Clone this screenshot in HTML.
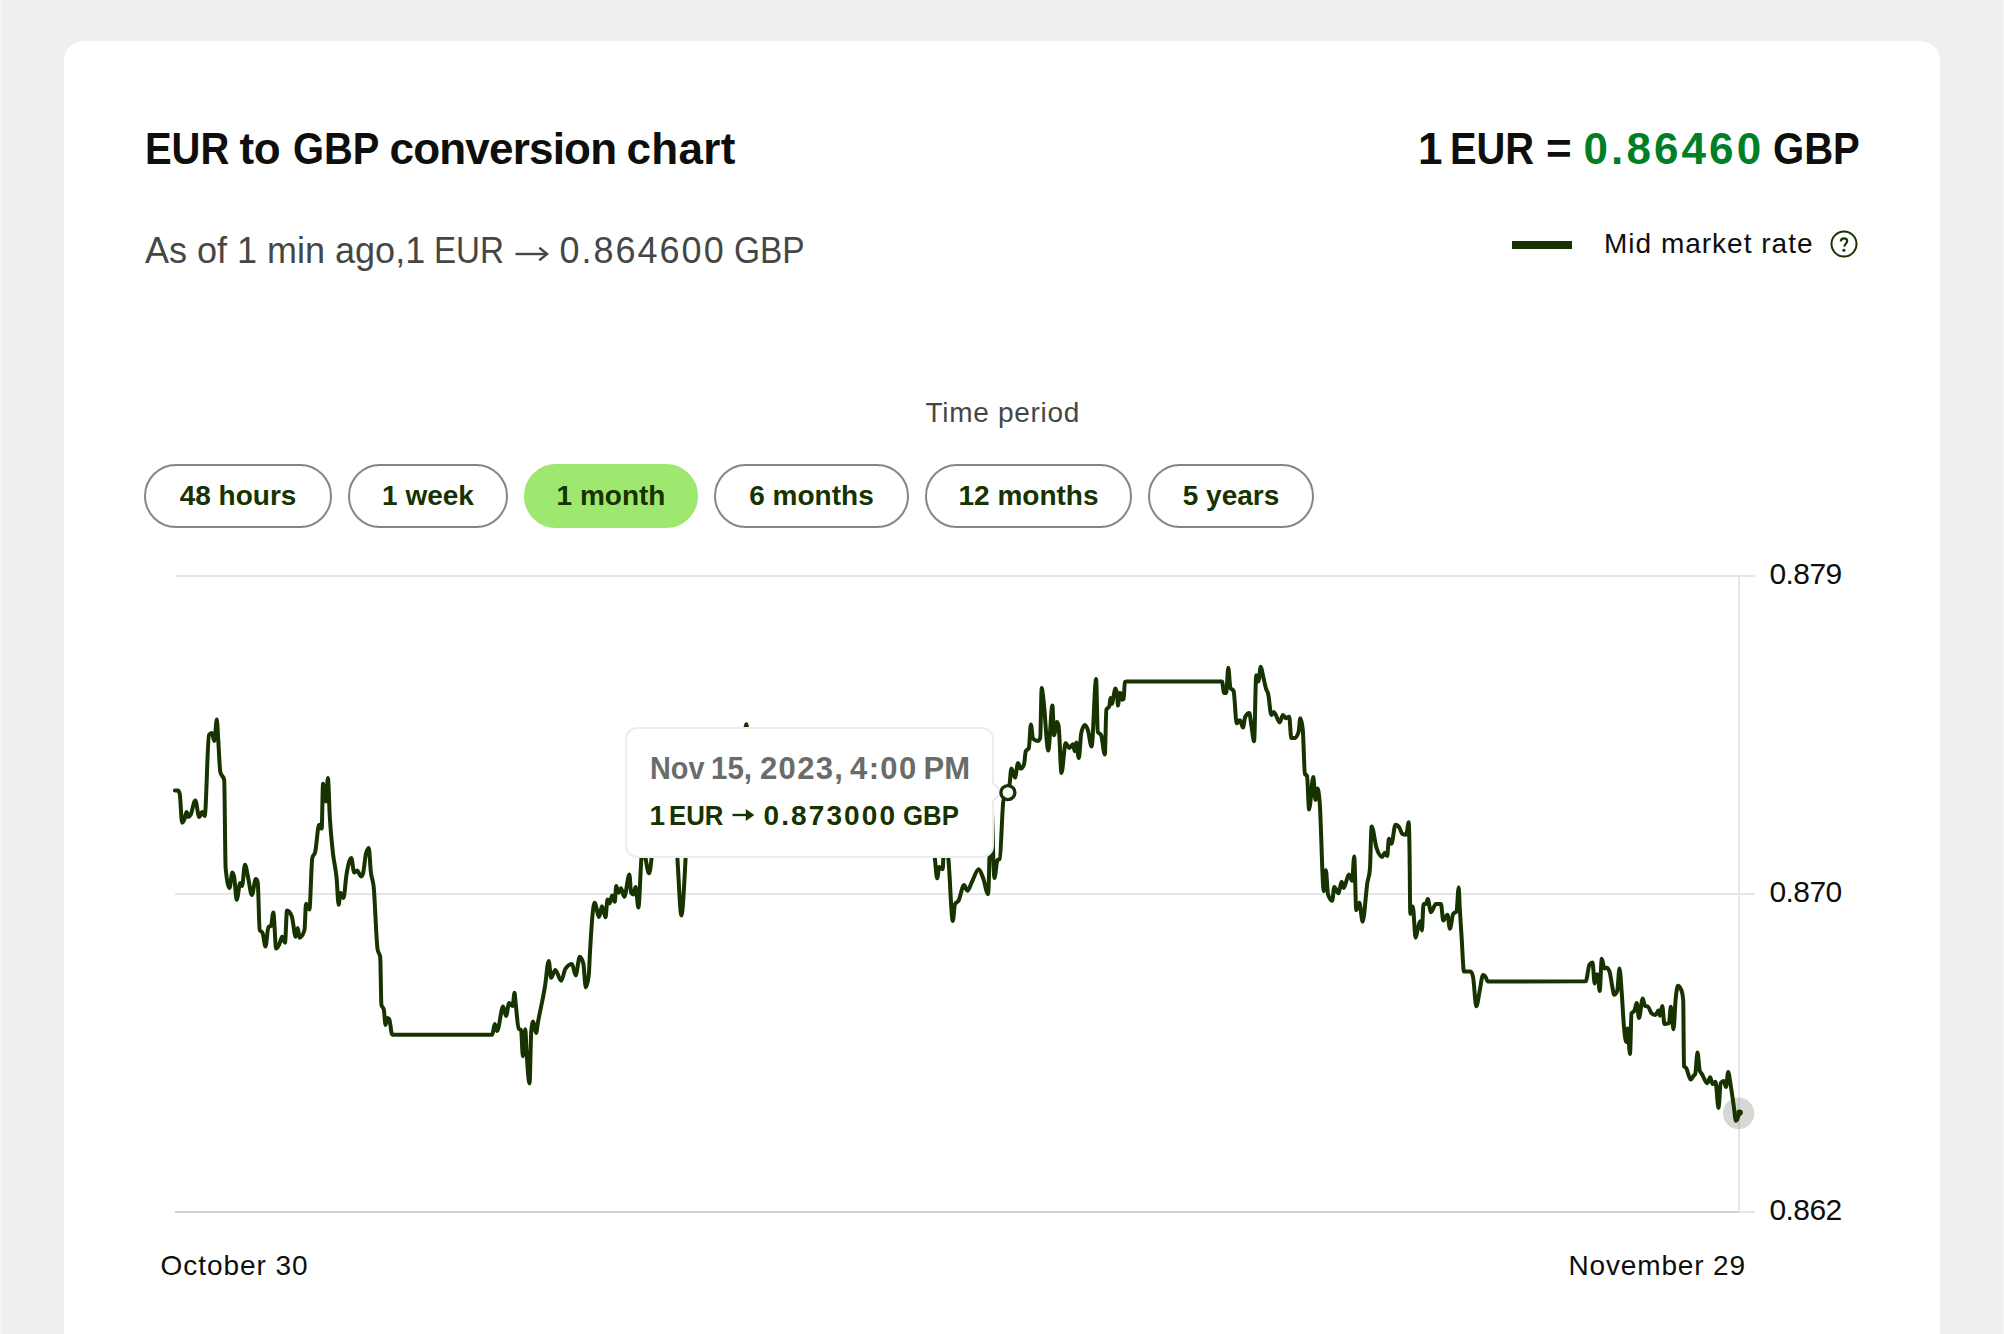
<!DOCTYPE html>
<html><head><meta charset="utf-8">
<style>
*{margin:0;padding:0;box-sizing:border-box}
html,body{width:2004px;height:1334px;overflow:hidden;background:#efefed;font-family:"Liberation Sans",sans-serif}
.card{position:absolute;left:64px;top:41px;width:1876px;height:1400px;background:#fff;border-radius:20px}
.t{position:absolute;white-space:nowrap;line-height:1}
.ttl{top:126.5px;font-size:44px;font-weight:700;color:#0e0f0c}
.rate{top:126.5px;font-size:44px;font-weight:700;color:#0e0f0c}
.sub{top:233px;font-size:36px;color:#454745}
.arr{display:inline-block;vertical-align:top}
#legbar{position:absolute;left:1512px;top:241px;width:60px;height:8px;background:#163300}
#leg{left:1604px;top:230px;font-size:28px;color:#0e0f0c;letter-spacing:1px}
#tp{left:925.5px;top:398.5px;font-size:28px;color:#454745;letter-spacing:0.7px}
.pill{position:absolute;top:464px;height:64px;border:2px solid #868685;border-radius:32px;font-size:28px;font-weight:700;color:#163300;text-align:center;line-height:60px;white-space:nowrap}
.pill.on{background:#9fe870;border-color:#9fe870}
.ax{position:absolute;font-size:28px;color:#0e0f0c;white-space:nowrap;line-height:1}
.xl{letter-spacing:0.95px}
.yl{font-size:30px;letter-spacing:-0.6px}
#tip{position:absolute;left:624.5px;top:727px;width:369px;height:131px;background:#fff;border:2px solid #ededed;border-radius:12px}
.tip1{top:752.5px;font-size:31px;font-weight:700;color:#6a6c6a}
.tip2{top:802px;font-size:28px;font-weight:700;color:#163300}
</style></head><body>
<div class="card"></div>
<div style="position:absolute;left:0;top:0;width:2px;height:1334px;background:#f4f4f3"></div><div style="position:absolute;right:0;top:0;width:2px;height:1334px;background:#f4f4f3"></div>
<div class="t ttl" style="left:144.5px;transform:scaleX(0.907);transform-origin:0 0">EUR</div><div class="t ttl" style="left:239.5px;letter-spacing:-0.5px">to</div><div class="t ttl" style="left:292.5px;transform:scaleX(0.905);transform-origin:0 0">GBP</div><div class="t ttl" style="left:389.5px;letter-spacing:-0.8px">conversion</div><div class="t ttl" style="left:626.5px;letter-spacing:0.35px">chart</div>
<div class="t rate" id="r1a" style="left:1418px">1</div><div class="t rate" id="r1b" style="left:1450px;transform:scaleX(0.905);transform-origin:0 0">EUR</div><div class="t rate" id="r1c" style="left:1546px">=</div><div class="t rate" id="r2" style="left:1583.5px;color:#008026;letter-spacing:3.1px">0.86460</div><div class="t rate" id="r3" style="left:1773px;transform:scaleX(0.91);transform-origin:0 0">GBP</div>
<div class="t sub" id="s1" style="left:145px">As of 1 min ago,1</div><div class="t sub" id="s2" style="left:434px;transform:scaleX(0.92);transform-origin:0 0">EUR</div><svg style="position:absolute;left:515px;top:233px" width="34" height="36" viewBox="0 0 34 36"><path d="M0.5 21 H32" stroke="#454745" stroke-width="2.4"/><path d="M24.3 14.8 L32.2 21 L24.3 27.2" fill="none" stroke="#454745" stroke-width="2.4"/></svg><div class="t sub" id="s3" style="left:559.5px;letter-spacing:2px">0.864600</div><div class="t sub" id="s4" style="left:733.5px;transform:scaleX(0.93);transform-origin:0 0">GBP</div>
<div id="legbar"></div>
<div class="t" id="leg">Mid market rate</div>
<svg style="position:absolute;left:1830px;top:230px" width="28" height="28" viewBox="0 0 28 28">
<circle cx="14" cy="14" r="12.5" fill="none" stroke="#163300" stroke-width="2"/>
<path d="M10.8 11.4 C11 9.4 12.4 8.4 14.1 8.4 C16 8.4 17.2 9.6 17.2 11.1 C17.2 13.3 14.8 13.8 14.3 16.6" fill="none" stroke="#163300" stroke-width="2.2" stroke-linecap="butt"/>
<circle cx="13.9" cy="20.2" r="1.55" fill="#163300"/>
</svg>
<div class="t" id="tp">Time period</div>
<div class="pill" id="p1" style="left:144px;width:188px">48 hours</div>
<div class="pill" id="p2" style="left:348px;width:160px">1 week</div>
<div class="pill on" id="p3" style="left:524px;width:174px">1 month</div>
<div class="pill" id="p4" style="left:714px;width:195px">6 months</div>
<div class="pill" id="p5" style="left:925px;width:207px">12 months</div>
<div class="pill" id="p6" style="left:1148px;width:166px">5 years</div>
<svg style="position:absolute;left:0;top:0" width="2004" height="1334">
<line x1="175" y1="576" x2="1755" y2="576" stroke="#e6e6e6" stroke-width="2"/>
<line x1="175" y1="894" x2="1755" y2="894" stroke="#e6e6e6" stroke-width="2"/>
<line x1="1739" y1="576" x2="1739" y2="1212" stroke="#e6e6e6" stroke-width="2"/>
<line x1="175" y1="1212" x2="1739" y2="1212" stroke="#cfcfcf" stroke-width="2"/>
<line x1="1739" y1="1212" x2="1755" y2="1212" stroke="#e6e6e6" stroke-width="2"/>
<circle cx="1738.6" cy="1113.3" r="15.7" fill="rgba(120,128,110,0.3)"/>
<path d="M174.90 790.60 C175.87 790.60 176.83 790.60 177.80 790.60 C178.43 790.60 179.07 791.60 179.70 793.60 C180.50 796.13 181.30 822.80 182.10 822.80 C182.93 822.80 183.77 821.07 184.60 818.90 C185.27 817.16 185.93 812.00 186.60 812.00 C187.23 812.00 187.87 817.00 188.50 817.00 C189.17 817.00 189.83 816.07 190.50 815.00 C192.10 812.44 193.70 800.40 195.30 800.40 C196.60 800.40 197.90 817.00 199.20 817.00 C200.20 817.00 201.20 812.00 202.20 812.00 C203.03 812.00 203.87 816.00 204.70 816.00 C206.13 816.00 207.57 736.98 209.00 735.00 C209.97 733.67 210.93 733.00 211.90 733.00 C212.73 733.00 213.57 741.00 214.40 741.00 C215.20 741.00 216.00 719.50 216.80 719.50 C217.30 719.50 217.80 733.58 218.30 741.00 C218.97 750.89 219.63 769.26 220.30 772.00 C221.60 777.33 222.90 774.67 224.20 780.00 C224.67 781.91 225.13 862.72 225.60 867.60 C226.90 881.20 228.20 888.00 229.50 888.00 C230.47 888.00 231.43 872.50 232.40 872.50 C233.03 872.50 233.67 874.43 234.30 878.00 C235.10 882.50 235.90 899.80 236.70 899.80 C237.87 899.80 239.03 883.00 240.20 883.00 C240.80 883.00 241.40 886.00 242.00 886.00 C243.00 886.00 244.00 864.70 245.00 864.70 C246.00 864.70 247.00 872.68 248.00 877.00 C249.30 882.62 250.60 895.00 251.90 895.00 C253.20 895.00 254.50 879.00 255.80 879.00 C256.43 879.00 257.07 880.00 257.70 882.00 C258.37 884.11 259.03 928.62 259.70 930.00 C260.67 932.00 261.63 931.00 262.60 933.00 C263.57 935.00 264.53 946.60 265.50 946.60 C266.47 946.60 267.43 927.74 268.40 927.00 C269.27 926.33 270.13 926.67 271.00 926.00 C271.77 925.41 272.53 912.50 273.30 912.50 C274.27 912.50 275.23 948.50 276.20 948.50 C277.20 948.50 278.20 946.61 279.20 944.60 C280.17 942.66 281.13 936.80 282.10 936.80 C283.07 936.80 284.03 942.70 285.00 942.70 C285.67 942.70 286.33 910.50 287.00 910.50 C288.60 910.50 290.20 912.47 291.80 916.40 C293.10 919.60 294.40 936.80 295.70 936.80 C296.37 936.80 297.03 928.00 297.70 928.00 C298.33 928.00 298.97 937.80 299.60 937.80 C301.23 937.80 302.87 935.20 304.50 930.00 C305.00 928.41 305.50 903.70 306.00 903.70 C307.13 903.70 308.27 909.50 309.40 909.50 C310.37 909.50 311.33 861.83 312.30 857.90 C313.27 853.97 314.23 855.93 315.20 852.00 C316.50 846.71 317.80 824.80 319.10 824.80 C319.97 824.80 320.83 828.70 321.70 828.70 C322.13 828.70 322.57 783.80 323.00 783.80 C324.00 783.80 325.00 801.40 326.00 801.40 C326.63 801.40 327.27 778.00 327.90 778.00 C328.53 778.00 329.17 806.18 329.80 817.00 C330.80 834.09 331.80 842.36 332.80 852.00 C334.10 864.53 335.40 864.63 336.70 879.30 C337.33 886.45 337.97 904.70 338.60 904.70 C339.27 904.70 339.93 893.00 340.60 893.00 C341.57 893.00 342.53 897.90 343.50 897.90 C344.47 897.90 345.43 881.40 346.40 875.40 C348.03 865.27 349.67 857.90 351.30 857.90 C352.27 857.90 353.23 872.50 354.20 872.50 C355.17 872.50 356.13 870.60 357.10 870.60 C358.40 870.60 359.70 876.40 361.00 876.40 C361.67 876.40 362.33 875.43 363.00 873.50 C363.97 870.70 364.93 858.00 365.90 854.00 C366.87 850.00 367.83 848.00 368.80 848.00 C369.47 848.00 370.13 865.41 370.80 871.50 C371.77 880.33 372.73 877.43 373.70 887.00 C375.00 899.87 376.30 942.20 377.60 949.50 C378.47 954.37 379.33 951.93 380.20 956.80 C380.60 959.05 381.00 1003.10 381.40 1004.70 C382.20 1007.90 383.00 1006.30 383.80 1009.50 C384.40 1011.90 385.00 1025.00 385.60 1025.00 C386.20 1025.00 386.80 1018.00 387.40 1018.00 C388.00 1018.00 388.60 1018.33 389.20 1019.00 C390.20 1020.11 391.20 1034.70 392.20 1034.70 C425.57 1034.70 458.93 1034.70 492.30 1034.70 C493.10 1034.70 493.90 1024.00 494.70 1024.00 C495.50 1024.00 496.30 1031.00 497.10 1031.00 C499.10 1031.00 501.10 1006.50 503.10 1006.50 C504.10 1006.50 505.10 1016.00 506.10 1016.00 C507.10 1016.00 508.10 1003.00 509.10 1003.00 C510.30 1003.00 511.50 1006.00 512.70 1006.00 C513.30 1006.00 513.90 992.80 514.50 992.80 C514.90 992.80 515.30 999.99 515.70 1003.50 C516.70 1012.27 517.70 1027.62 518.70 1028.70 C519.50 1029.57 520.30 1029.13 521.10 1030.00 C521.70 1030.65 522.30 1056.30 522.90 1056.30 C523.70 1056.30 524.50 1029.30 525.30 1029.30 C525.70 1029.30 526.10 1044.04 526.50 1050.30 C527.50 1065.94 528.50 1083.30 529.50 1083.30 C530.10 1083.30 530.70 1037.33 531.30 1031.00 C531.90 1024.67 532.50 1021.50 533.10 1021.50 C534.10 1021.50 535.10 1033.00 536.10 1033.00 C536.70 1033.00 537.30 1026.07 537.90 1022.70 C540.30 1009.24 542.70 1000.66 545.10 985.60 C546.30 978.07 547.50 961.00 548.70 961.00 C549.50 961.00 550.30 977.80 551.10 977.80 C552.50 977.80 553.90 970.00 555.30 970.00 C557.27 970.00 559.23 980.80 561.20 980.80 C562.60 980.80 564.00 970.84 565.40 968.80 C567.60 965.60 569.80 964.00 572.00 964.00 C573.20 964.00 574.40 975.40 575.60 975.40 C577.00 975.40 578.40 956.80 579.80 956.80 C581.00 956.80 582.20 959.20 583.40 964.00 C584.20 967.20 585.00 987.40 585.80 987.40 C586.80 987.40 587.80 983.20 588.80 974.80 C589.20 971.44 589.60 958.91 590.00 952.00 C591.53 925.49 593.07 902.70 594.60 902.70 C596.10 902.70 597.60 916.90 599.10 916.90 C600.03 916.90 600.97 906.20 601.90 906.20 C603.10 906.20 604.30 917.20 605.50 917.20 C606.17 917.20 606.83 899.50 607.50 899.50 C608.23 899.50 608.97 903.40 609.70 903.40 C610.47 903.40 611.23 895.50 612.00 895.50 C612.93 895.50 613.87 901.70 614.80 901.70 C615.27 901.70 615.73 886.00 616.20 886.00 C617.03 886.00 617.87 892.70 618.70 892.70 C619.47 892.70 620.23 888.20 621.00 888.20 C622.10 888.20 623.20 896.70 624.30 896.70 C626.00 896.70 627.70 874.50 629.40 874.50 C629.97 874.50 630.53 891.82 631.10 892.70 C631.83 893.83 632.57 894.40 633.30 894.40 C634.07 894.40 634.83 887.10 635.60 887.10 C636.53 887.10 637.47 907.50 638.40 907.50 C639.53 907.50 640.67 859.00 641.80 855.00 C642.37 853.00 642.93 852.00 643.50 852.00 C645.37 852.00 647.23 873.30 649.10 873.30 C650.23 873.30 651.37 858.73 652.50 850.00 C653.67 841.02 654.83 828.46 656.00 820.00 C658.00 805.49 660.00 790.00 662.00 790.00 C664.00 790.00 666.00 810.00 668.00 810.00 C669.67 810.00 671.33 800.00 673.00 800.00 C673.83 800.00 674.67 818.61 675.50 830.00 C676.17 839.11 676.83 850.17 677.50 860.00 C678.80 879.16 680.10 915.50 681.40 915.50 C682.77 915.50 684.13 884.97 685.50 860.00 C686.00 850.87 686.50 836.00 687.00 830.00 C688.67 810.00 690.33 804.17 692.00 800.00 C694.67 793.33 697.33 794.22 700.00 790.00 C703.33 784.72 706.67 770.00 710.00 770.00 C713.33 770.00 716.67 780.00 720.00 780.00 C723.33 780.00 726.67 765.00 730.00 760.00 C733.33 755.00 736.67 756.67 740.00 750.00 C741.33 747.33 742.67 746.67 744.00 740.00 C744.80 736.00 745.60 724.20 746.40 724.20 C747.10 724.20 747.80 739.62 748.50 745.00 C750.67 761.67 752.83 763.24 755.00 770.00 C758.33 780.40 761.67 790.00 765.00 790.00 C768.33 790.00 771.67 780.00 775.00 780.00 C780.00 780.00 785.00 800.00 790.00 800.00 C795.00 800.00 800.00 790.00 805.00 790.00 C810.00 790.00 815.00 810.00 820.00 810.00 C826.67 810.00 833.33 800.00 840.00 800.00 C846.67 800.00 853.33 820.00 860.00 820.00 C866.67 820.00 873.33 810.00 880.00 810.00 C886.67 810.00 893.33 830.00 900.00 830.00 C905.00 830.00 910.00 820.00 915.00 820.00 C918.33 820.00 921.67 830.14 925.00 835.00 C927.33 838.40 929.67 838.33 932.00 845.00 C932.93 847.67 933.87 851.52 934.80 858.00 C935.57 863.32 936.33 878.30 937.10 878.30 C937.83 878.30 938.57 867.00 939.30 867.00 C940.43 867.00 941.57 869.30 942.70 869.30 C943.07 869.30 943.43 851.67 943.80 850.00 C944.53 846.67 945.27 845.00 946.00 845.00 C946.77 845.00 947.53 851.50 948.30 858.00 C949.80 870.71 951.30 921.00 952.80 921.00 C953.53 921.00 954.27 905.62 955.00 904.20 C956.17 901.93 957.33 902.80 958.50 900.80 C960.33 897.66 962.17 885.00 964.00 885.00 C965.13 885.00 966.27 890.70 967.40 890.70 C968.93 890.70 970.47 884.63 972.00 881.70 C974.23 877.43 976.47 869.30 978.70 869.30 C980.20 869.30 981.70 874.41 983.20 878.30 C984.83 882.54 986.47 894.20 988.10 894.20 C989.13 894.20 990.17 800.00 991.20 800.00 C992.27 800.00 993.33 878.00 994.40 878.00 C995.43 878.00 996.47 860.94 997.50 860.00 C998.23 859.33 998.97 859.67 999.70 859.00 C1000.97 857.85 1002.23 804.09 1003.50 800.00 C1004.97 795.27 1006.43 797.63 1007.90 792.90 C1008.43 791.18 1008.97 788.55 1009.50 785.00 C1010.13 780.79 1010.77 768.50 1011.40 768.50 C1012.60 768.50 1013.80 777.60 1015.00 777.60 C1016.00 777.60 1017.00 763.00 1018.00 763.00 C1018.90 763.00 1019.80 768.60 1020.70 768.60 C1021.80 768.60 1022.90 767.20 1024.00 764.40 C1024.60 762.87 1025.20 752.40 1025.80 751.20 C1026.80 749.20 1027.80 750.20 1028.80 748.20 C1029.50 746.80 1030.20 724.50 1030.90 724.50 C1031.60 724.50 1032.30 737.90 1033.00 738.60 C1034.60 740.20 1036.20 741.00 1037.80 741.00 C1038.60 741.00 1039.40 740.00 1040.20 738.00 C1040.70 736.75 1041.20 688.00 1041.70 688.00 C1042.30 688.00 1042.90 695.37 1043.50 700.00 C1045.10 712.34 1046.70 750.40 1048.30 750.40 C1049.67 750.40 1051.03 705.50 1052.40 705.50 C1052.93 705.50 1053.47 735.20 1054.00 735.20 C1054.97 735.20 1055.93 722.00 1056.90 722.00 C1057.47 722.00 1058.03 723.33 1058.60 726.00 C1059.57 730.55 1060.53 773.00 1061.50 773.00 C1062.87 773.00 1064.23 743.00 1065.60 743.00 C1066.83 743.00 1068.07 748.00 1069.30 748.00 C1070.53 748.00 1071.77 744.30 1073.00 744.30 C1073.57 744.30 1074.13 751.30 1074.70 751.30 C1075.23 751.30 1075.77 742.60 1076.30 742.60 C1077.13 742.60 1077.97 758.00 1078.80 758.00 C1079.63 758.00 1080.47 736.17 1081.30 732.70 C1082.53 727.57 1083.77 725.00 1085.00 725.00 C1085.97 725.00 1086.93 727.36 1087.90 730.20 C1089.13 733.83 1090.37 746.50 1091.60 746.50 C1093.10 746.50 1094.60 679.00 1096.10 679.00 C1096.67 679.00 1097.23 730.77 1097.80 731.90 C1098.90 734.10 1100.00 733.00 1101.10 735.20 C1102.33 737.67 1103.57 754.50 1104.80 754.50 C1105.33 754.50 1105.87 710.81 1106.40 709.60 C1107.37 707.40 1108.33 708.50 1109.30 706.30 C1109.70 705.39 1110.10 698.00 1110.50 698.00 C1111.07 698.00 1111.63 703.80 1112.20 703.80 C1112.60 703.80 1113.00 699.20 1113.40 697.20 C1114.10 693.70 1114.80 688.50 1115.50 688.50 C1116.03 688.50 1116.57 690.60 1117.10 694.80 C1117.40 697.16 1117.70 705.50 1118.00 705.50 C1118.53 705.50 1119.07 693.10 1119.60 693.10 C1120.17 693.10 1120.73 693.37 1121.30 693.90 C1121.57 694.15 1121.83 699.70 1122.10 699.70 C1122.63 699.70 1123.17 699.43 1123.70 698.90 C1124.07 698.53 1124.43 682.17 1124.80 682.00 C1125.37 681.73 1125.93 681.60 1126.50 681.60 C1158.33 681.60 1190.17 681.60 1222.00 681.60 C1222.70 681.60 1223.40 693.00 1224.10 693.00 C1224.80 693.00 1225.50 693.00 1226.20 693.00 C1226.90 693.00 1227.60 667.80 1228.30 667.80 C1229.00 667.80 1229.70 686.40 1230.40 687.80 C1231.47 689.93 1232.53 688.87 1233.60 691.00 C1234.63 693.07 1235.67 723.40 1236.70 723.40 C1237.77 723.40 1238.83 720.30 1239.90 720.30 C1240.93 720.30 1241.97 727.60 1243.00 727.60 C1243.70 727.60 1244.40 718.47 1245.10 717.10 C1246.50 714.37 1247.90 713.00 1249.30 713.00 C1250.00 713.00 1250.70 721.36 1251.40 725.50 C1252.30 730.82 1253.20 741.30 1254.10 741.30 C1254.80 741.30 1255.50 675.20 1256.20 675.20 C1256.90 675.20 1257.60 681.50 1258.30 681.50 C1259.13 681.50 1259.97 666.80 1260.80 666.80 C1261.50 666.80 1262.20 672.33 1262.90 675.20 C1263.97 679.57 1265.03 685.41 1266.10 688.80 C1266.80 691.03 1267.50 691.05 1268.20 694.00 C1269.23 698.35 1270.27 715.00 1271.30 715.00 C1272.13 715.00 1272.97 711.90 1273.80 711.90 C1275.77 711.90 1277.73 722.40 1279.70 722.40 C1280.77 722.40 1281.83 715.00 1282.90 715.00 C1283.93 715.00 1284.97 718.20 1286.00 718.20 C1287.07 718.20 1288.13 716.70 1289.20 716.70 C1289.90 716.70 1290.60 738.10 1291.30 738.10 C1292.33 738.10 1293.37 738.10 1294.40 738.10 C1295.80 738.10 1297.20 736.00 1298.60 731.80 C1299.17 730.10 1299.73 718.20 1300.30 718.20 C1301.13 718.20 1301.97 722.03 1302.80 729.70 C1303.50 736.14 1304.20 772.40 1304.90 773.80 C1305.60 775.20 1306.30 774.50 1307.00 775.90 C1307.70 777.30 1308.40 809.40 1309.10 809.40 C1310.50 809.40 1311.90 776.90 1313.30 776.90 C1314.00 776.90 1314.70 800.00 1315.40 800.00 C1316.10 800.00 1316.80 788.50 1317.50 788.50 C1318.20 788.50 1318.90 793.21 1319.60 801.00 C1321.00 816.58 1322.40 891.20 1323.80 891.20 C1324.50 891.20 1325.20 870.30 1325.90 870.30 C1326.60 870.30 1327.30 892.30 1328.00 894.40 C1329.40 898.60 1330.80 900.70 1332.20 900.70 C1332.90 900.70 1333.60 887.00 1334.30 887.00 C1335.70 887.00 1337.10 893.30 1338.50 893.30 C1339.53 893.30 1340.57 881.80 1341.60 881.80 C1342.30 881.80 1343.00 888.00 1343.70 888.00 C1345.43 888.00 1347.17 874.50 1348.90 874.50 C1349.97 874.50 1351.03 880.80 1352.10 880.80 C1352.80 880.80 1353.50 856.60 1354.20 856.60 C1354.90 856.60 1355.60 910.10 1356.30 910.10 C1357.33 910.10 1358.37 902.80 1359.40 902.80 C1360.47 902.80 1361.53 921.70 1362.60 921.70 C1364.20 921.70 1365.80 892.53 1367.40 882.50 C1368.23 877.28 1369.07 878.10 1369.90 869.30 C1370.47 863.32 1371.03 826.40 1371.60 826.40 C1373.23 826.40 1374.87 842.85 1376.50 847.90 C1378.43 853.87 1380.37 856.90 1382.30 856.90 C1383.13 856.90 1383.97 852.80 1384.80 852.80 C1385.60 852.80 1386.40 856.10 1387.20 856.10 C1387.77 856.10 1388.33 838.80 1388.90 838.80 C1389.73 838.80 1390.57 843.70 1391.40 843.70 C1392.77 843.70 1394.13 824.80 1395.50 824.80 C1396.87 824.80 1398.23 825.87 1399.60 828.00 C1400.43 829.30 1401.27 833.43 1402.10 833.80 C1403.47 834.40 1404.83 834.70 1406.20 834.70 C1407.03 834.70 1407.87 822.30 1408.70 822.30 C1408.97 822.30 1409.23 834.23 1409.50 849.50 C1409.77 864.77 1410.03 913.90 1410.30 913.90 C1411.13 913.90 1411.97 906.40 1412.80 906.40 C1413.73 906.40 1414.67 937.80 1415.60 937.80 C1416.33 937.80 1417.07 931.36 1417.80 928.70 C1418.60 925.79 1419.40 921.30 1420.20 921.30 C1420.77 921.30 1421.33 930.40 1421.90 930.40 C1422.43 930.40 1422.97 904.00 1423.50 904.00 C1424.33 904.00 1425.17 904.00 1426.00 904.00 C1426.57 904.00 1427.13 899.00 1427.70 899.00 C1428.80 899.00 1429.90 912.20 1431.00 912.20 C1432.63 912.20 1434.27 904.00 1435.90 904.00 C1437.57 904.00 1439.23 904.00 1440.90 904.00 C1441.70 904.00 1442.50 920.50 1443.30 920.50 C1444.70 920.50 1446.10 914.70 1447.50 914.70 C1448.30 914.70 1449.10 928.70 1449.90 928.70 C1451.00 928.70 1452.10 915.57 1453.20 913.90 C1454.30 912.23 1455.40 913.07 1456.50 911.40 C1457.23 910.29 1457.97 887.50 1458.70 887.50 C1459.07 887.50 1459.43 902.33 1459.80 908.90 C1460.37 919.05 1460.93 926.73 1461.50 935.30 C1462.33 947.90 1463.17 971.60 1464.00 971.60 C1466.20 971.60 1468.40 971.60 1470.60 971.60 C1471.40 971.60 1472.20 973.27 1473.00 976.60 C1474.10 981.18 1475.20 1006.30 1476.30 1006.30 C1477.40 1006.30 1478.50 996.55 1479.60 991.40 C1480.73 986.09 1481.87 974.90 1483.00 974.90 C1483.80 974.90 1484.60 975.54 1485.40 976.60 C1486.23 977.70 1487.07 981.50 1487.90 981.50 C1520.50 981.50 1553.10 981.40 1585.70 981.20 C1586.97 981.19 1588.23 966.56 1589.50 964.70 C1590.50 963.23 1591.50 962.50 1592.50 962.50 C1593.23 962.50 1593.97 983.50 1594.70 983.50 C1595.20 983.50 1595.70 974.50 1596.20 974.50 C1596.70 974.50 1597.20 974.50 1597.70 974.50 C1598.37 974.50 1599.03 991.00 1599.70 991.00 C1600.40 991.00 1601.10 958.70 1601.80 958.70 C1602.70 958.70 1603.60 968.50 1604.50 968.50 C1605.23 968.50 1605.97 967.70 1606.70 967.70 C1607.70 967.70 1608.70 969.20 1609.70 972.20 C1610.47 974.50 1611.23 981.19 1612.00 985.00 C1612.73 988.65 1613.47 994.70 1614.20 994.70 C1615.20 994.70 1616.20 993.47 1617.20 991.00 C1617.97 989.11 1618.73 968.50 1619.50 968.50 C1620.23 968.50 1620.97 983.03 1621.70 992.50 C1622.47 1002.40 1623.23 1018.71 1624.00 1027.00 C1624.73 1034.93 1625.47 1042.00 1626.20 1042.00 C1626.70 1042.00 1627.20 1028.50 1627.70 1028.50 C1628.47 1028.50 1629.23 1054.00 1630.00 1054.00 C1630.50 1054.00 1631.00 1014.50 1631.50 1013.50 C1632.50 1011.50 1633.50 1012.50 1634.50 1010.50 C1635.23 1009.03 1635.97 1003.00 1636.70 1003.00 C1637.47 1003.00 1638.23 1018.00 1639.00 1018.00 C1640.23 1018.00 1641.47 998.50 1642.70 998.50 C1643.47 998.50 1644.23 1005.64 1645.00 1006.00 C1646.00 1006.47 1647.00 1006.23 1648.00 1006.70 C1649.23 1007.28 1650.47 1012.53 1651.70 1013.50 C1652.97 1014.50 1654.23 1015.00 1655.50 1015.00 C1656.50 1015.00 1657.50 1010.50 1658.50 1010.50 C1659.00 1010.50 1659.50 1015.70 1660.00 1015.70 C1660.73 1015.70 1661.47 1006.00 1662.20 1006.00 C1662.97 1006.00 1663.73 1024.00 1664.50 1024.00 C1666.00 1024.00 1667.50 1023.73 1669.00 1023.20 C1669.60 1022.99 1670.20 1006.70 1670.80 1006.70 C1671.70 1006.70 1672.60 1029.20 1673.50 1029.20 C1674.23 1029.20 1674.97 1005.73 1675.70 998.50 C1676.47 990.95 1677.23 985.70 1678.00 985.70 C1679.23 985.70 1680.47 987.47 1681.70 991.00 C1682.20 992.43 1682.70 994.00 1683.20 1000.00 C1683.47 1003.20 1683.73 1065.47 1684.00 1066.00 C1684.73 1067.47 1685.47 1067.10 1686.20 1068.20 C1687.70 1070.44 1689.20 1079.50 1690.70 1079.50 C1691.70 1079.50 1692.70 1076.79 1693.70 1075.70 C1694.20 1075.16 1694.70 1075.20 1695.20 1074.20 C1695.97 1072.67 1696.73 1052.50 1697.50 1052.50 C1698.23 1052.50 1698.97 1068.14 1699.70 1070.50 C1700.47 1072.97 1701.23 1072.94 1702.00 1074.20 C1703.73 1077.05 1705.47 1083.20 1707.20 1083.20 C1708.20 1083.20 1709.20 1077.20 1710.20 1077.20 C1710.97 1077.20 1711.73 1084.00 1712.50 1084.00 C1713.50 1084.00 1714.50 1081.70 1715.50 1081.70 C1716.50 1081.70 1717.50 1108.00 1718.50 1108.00 C1719.23 1108.00 1719.97 1084.28 1720.70 1083.20 C1721.70 1081.73 1722.70 1081.00 1723.70 1081.00 C1724.47 1081.00 1725.23 1087.00 1726.00 1087.00 C1726.73 1087.00 1727.47 1072.00 1728.20 1072.00 C1728.97 1072.00 1729.73 1079.52 1730.50 1084.00 C1731.63 1090.62 1732.77 1099.24 1733.90 1107.00 C1734.57 1111.57 1735.23 1120.80 1735.90 1120.80 C1737.07 1120.80 1738.23 1116.70 1739.40 1112.60" fill="none" stroke="#163300" stroke-width="4.0" stroke-linejoin="round" stroke-linecap="round"/>
<circle cx="1739.6" cy="1112.6" r="3.2" fill="#163300"/>
</svg>
<div id="tip"></div>
<svg style="position:absolute;left:990px;top:780px" width="16" height="26" viewBox="0 0 16 26">
<path d="M1 1 L12 12 L1 23" fill="#fff" stroke="#ebebeb" stroke-width="2"/>
<rect x="0" y="0" width="2" height="26" fill="#fff"/>
</svg>
<svg style="position:absolute;left:996px;top:781px" width="24" height="24">
<circle cx="11.9" cy="11.6" r="7.0" fill="#fff" stroke="#163300" stroke-width="3.4"/>
</svg>
<div class="t tip1" style="left:650px;transform:scaleX(0.93);transform-origin:0 0">Nov</div><div class="t tip1" style="left:711px;transform:scaleX(0.95);transform-origin:0 0">15,</div><div class="t tip1" style="left:760px;letter-spacing:1.35px">2023,</div><div class="t tip1" style="left:850px;letter-spacing:1.4px">4:00</div><div class="t tip1" style="left:923.5px">PM</div>
<div class="t tip2" style="left:649.5px">1</div><div class="t tip2" style="left:669px;transform:scaleX(0.92);transform-origin:0 0">EUR</div><svg style="position:absolute;left:732px;top:800px" width="23" height="28" viewBox="0 0 23 28"><path d="M0.5 15 H16" stroke="#163300" stroke-width="2.3"/><path d="M13.8 9 L22.3 15 L13.8 21 Z" fill="#163300"/></svg><div class="t tip2" style="left:763.5px;letter-spacing:2.1px">0.873000</div><div class="t tip2" style="left:903px;transform:scaleX(0.92);transform-origin:0 0">GBP</div>
<div class="ax yl" id="y1" style="left:1769.5px;top:558.5px">0.879</div>
<div class="ax yl" id="y2" style="left:1769.5px;top:876.5px">0.870</div>
<div class="ax yl" id="y3" style="left:1769.5px;top:1194.5px">0.862</div>
<div class="ax xl" id="x1" style="left:160.5px;top:1251.5px">October 30</div>
<div class="ax xl" id="x2" style="left:1568.5px;top:1251.5px;letter-spacing:0.85px">November 29</div>
</body></html>
